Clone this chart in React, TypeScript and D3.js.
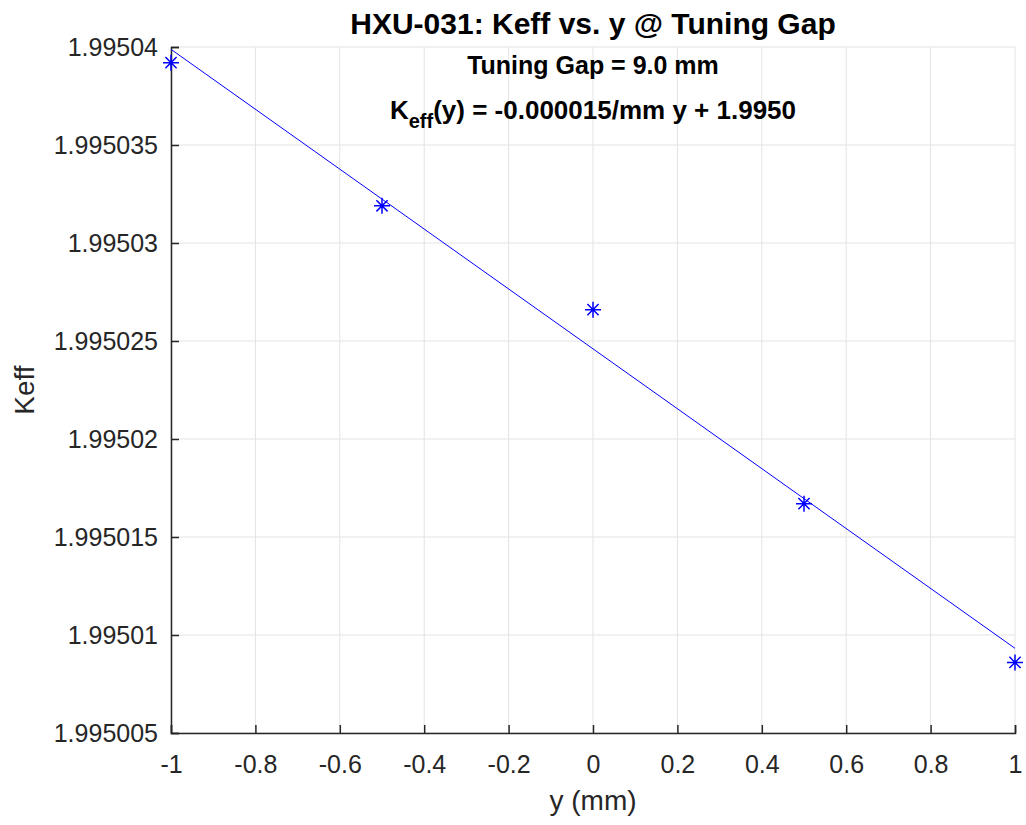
import { useEffect, useRef } from 'react';
import * as d3 from 'd3';

const yPositions = [-1, -0.5, 0, 0.5, 1];
const keffValues = [1.9950392, 1.9950319, 1.9950266, 1.9950167, 1.9950086];
const xTicks = [-1, -0.8, -0.6, -0.4, -0.2, 0, 0.2, 0.4, 0.6, 0.8, 1];
const yTicks = [1.995005, 1.99501, 1.995015, 1.99502, 1.995025, 1.99503, 1.995035, 1.99504];
const yTickLabels = ['1.995005', '1.99501', '1.995015', '1.99502', '1.995025', '1.99503', '1.995035', '1.99504'];

const App = () => {
    const svgRef = useRef<SVGSVGElement>(null);

    useEffect(() => {
        if (!svgRef.current) return;
        const svg = d3.select(svgRef.current);
        svg.selectAll('*').remove();

        const width = 1026;
        const height = 825;
        const margin = { top: 47, right: 11, bottom: 92, left: 171 };
        const innerWidth = width - margin.left - margin.right;
        const innerHeight = height - margin.top - margin.bottom;
        const font = 'Liberation Sans, Arial, Helvetica, sans-serif';
        const axisColor = '#262626';

        const x = d3.scaleLinear().domain([-1, 1]).range([0, innerWidth]);
        const y = d3.scaleLinear().domain([1.995005, 1.99504]).range([innerHeight, 0]);

        const g = svg.append('g').attr('transform', `translate(${margin.left},${margin.top})`);

        // grid
        g.append('g').selectAll('line').data(xTicks).enter().append('line')
            .attr('x1', d => x(d)).attr('x2', d => x(d))
            .attr('y1', 0).attr('y2', innerHeight)
            .attr('stroke', '#e3e3e3').attr('stroke-width', 1);
        g.append('g').selectAll('line').data(yTicks).enter().append('line')
            .attr('x1', 0).attr('x2', innerWidth)
            .attr('y1', d => y(d)).attr('y2', d => y(d))
            .attr('stroke', '#e3e3e3').attr('stroke-width', 1);

        // axes
        const xAxis = g.append('g')
            .attr('transform', `translate(0,${innerHeight})`)
            .call(d3.axisBottom(x).tickValues(xTicks).tickSize(-8).tickPadding(22)
                .tickFormat(d => String(+d)));
        const yAxis = g.append('g')
            .call(d3.axisLeft(y).tickValues(yTicks).tickSize(-8).tickPadding(13)
                .tickFormat((_, i) => yTickLabels[i]));
        [xAxis, yAxis].forEach(a => {
            a.select('.domain').attr('stroke', axisColor).attr('stroke-width', 1.5);
            a.selectAll('.tick line').attr('stroke', axisColor).attr('stroke-width', 1.5);
            a.selectAll('.tick text')
                .attr('fill', axisColor)
                .style('font-family', font)
                .style('font-size', '25px');
        });
        xAxis.selectAll('.tick text').attr('dy', '0.71em');

        // fit line (least squares)
        const mx = d3.mean(yPositions) as number;
        const my = d3.mean(keffValues) as number;
        let sxy = 0, sxx = 0;
        yPositions.forEach((v, i) => {
            sxy += (v - mx) * (keffValues[i] - my);
            sxx += (v - mx) * (v - mx);
        });
        const slope = sxy / sxx;
        const intercept = my - slope * mx;
        const fit = d3.line<number>().x(d => x(d)).y(d => y(slope * d + intercept));
        g.append('path')
            .datum([-1, 1])
            .attr('d', fit)
            .attr('fill', 'none')
            .attr('stroke', '#0000ff')
            .attr('stroke-width', 1);

        // asterisk markers
        const r = 8;
        const star = `M${-r},0L${r},0M0,${-r}L0,${r}M${-r * 0.7},${-r * 0.7}L${r * 0.7},${r * 0.7}M${-r * 0.7},${r * 0.7}L${r * 0.7},${-r * 0.7}`;
        g.append('g').selectAll('path').data(yPositions).enter().append('path')
            .attr('transform', (d, i) => `translate(${x(d)},${y(keffValues[i])})`)
            .attr('d', star)
            .attr('stroke', '#0000ff')
            .attr('stroke-width', 1.5)
            .attr('fill', 'none');

        // titles
        const cx = margin.left + innerWidth / 2;
        svg.append('text')
            .attr('x', cx).attr('y', 34)
            .attr('text-anchor', 'middle')
            .style('font-family', font).style('font-size', '30px').style('font-weight', 'bold')
            .attr('fill', '#000')
            .text('HXU-031: Keff vs. y @ Tuning Gap');
        svg.append('text')
            .attr('x', cx).attr('y', 74)
            .attr('text-anchor', 'middle')
            .style('font-family', font).style('font-size', '25px').style('font-weight', 'bold')
            .attr('fill', '#000')
            .text('Tuning Gap = 9.0 mm');
        const eq = svg.append('text')
            .attr('x', cx).attr('y', 119)
            .attr('text-anchor', 'middle')
            .style('font-family', font).style('font-size', '26px').style('font-weight', 'bold')
            .attr('fill', '#000');
        eq.append('tspan').text('K');
        eq.append('tspan').attr('dy', 9).style('font-size', '20px').text('eff');
        eq.append('tspan').attr('dy', -9).text('(y) = -0.000015/mm y + 1.9950');

        // axis labels
        svg.append('text')
            .attr('x', cx).attr('y', 810)
            .attr('text-anchor', 'middle')
            .style('font-family', font).style('font-size', '28px')
            .attr('fill', axisColor)
            .text('y (mm)');
        svg.append('text')
            .attr('transform', `translate(34,${margin.top + innerHeight / 2}) rotate(-90)`)
            .attr('text-anchor', 'middle')
            .style('font-family', font).style('font-size', '28px')
            .attr('fill', axisColor)
            .text('Keff');
    }, []);

    return (
        <div style={{ position: 'absolute', left: 0, top: 0, background: '#fff' }}>
            <svg ref={svgRef} width={1026} height={825} style={{ display: 'block' }}></svg>
        </div>
    );
};

export default App;
